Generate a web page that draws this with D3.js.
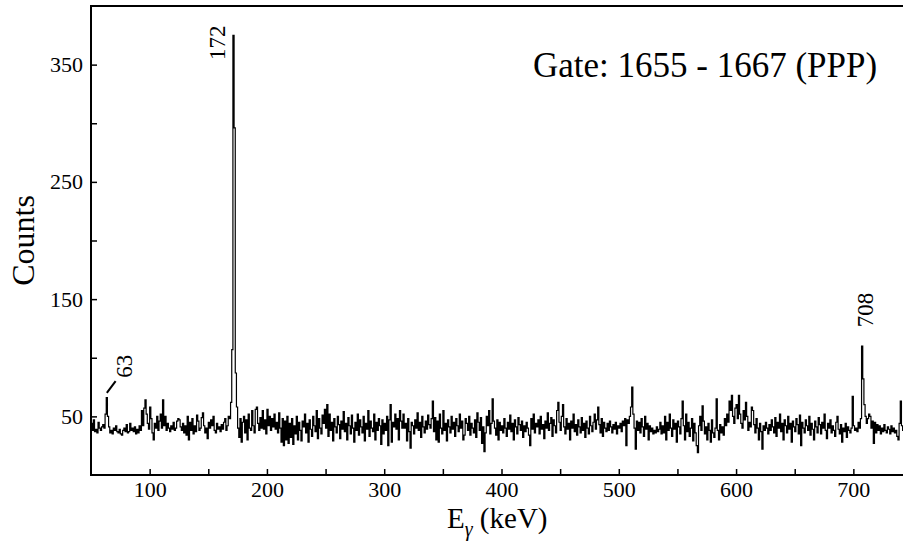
<!DOCTYPE html>
<html>
<head>
<meta charset="utf-8">
<script src="https://cdn.jsdelivr.net/npm/d3@7"></script>
<style>
  body { margin: 0; background: #fff; }
  svg { display: block; }
  svg text { font-family: "Liberation Serif", "DejaVu Serif", serif; fill: #000; }
  .axis path { display: none; }
  .axis line { stroke: #000; stroke-width: 1.5; }
  .axis text { font-size: 22px; font-family: "Liberation Serif", "DejaVu Serif", serif; }
</style>
</head>
<body>
<svg id="chart"></svg>
<script>
// gamma spectrum, 1 keV per channel, first channel at 50 keV
var startEnergy = 50;

var counts050 = [44,38,47,37,39,36,45,40,38,41, 43,40,52,66,50,41,36,38,35,40,
                 38,42,37,36,39,35,34,38,40,37, 43,36,37,44,38,40,37,41,35,39,
                 36,42,38,55,42,57,64,52,44,39];
var counts100 = [58,48,36,30,44,40,50,38,46,52, 40,64,42,50,38,44,40,37,42,39,
                 45,38,40,46,48,47,41,38,44,36, 42,34,50,30,45,38,48,35,42,37,
                 51,46,38,40,49,53,42,36,40,31];
var counts150 = [45,40,47,42,50,38,36,44,39,41, 37,43,39,45,48,38,42,50,48,62,
                 107,375,296,87,58,40,32,48,28,45, 50,36,47,30,52,40,38,55,42,36,
                 56,58,44,38,49,40,55,39,47,35];
var counts200 = [56,42,50,38,48,41,52,39,45,36, 53,40,28,48,25,46,30,50,27,44,
                 32,48,26,42,35,50,30,45,38,29, 46,41,52,36,44,28,47,39,33,50,
                 42,37,55,31,48,40,35,51,44,56];
var counts250 = [40,60,33,52,38,45,29,48,41,36, 50,43,31,46,39,54,37,44,30,49,
                 42,35,51,40,28,45,38,52,34,47, 41,36,50,29,44,39,55,33,46,40,
                 37,52,30,45,38,48,42,26,47,35];
var counts300 = [44,38,50,25,47,60,28,45,41,52, 39,48,30,55,46,40,52,40,44,29,
                 48,37,23,45,42,35,47,40,53,38, 45,32,50,41,36,46,39,51,43,40,
                 48,63,37,49,30,46,28,52,40,35];
var counts350 = [55,38,44,29,47,41,36,50,39,45, 33,48,42,37,52,40,46,30,34,48,
                 44,38,50,34,44,40,36,47,32,53, 45,38,49,27,41,20,36,50,42,55,
                 35,44,65,46,40,34,47,30,45,38];
var counts400 = [42,36,48,40,33,45,39,51,37,44, 30,47,41,35,49,43,38,46,32,42,
                 37,45,40,34,25,48,39,52,36,44, 41,47,35,50,39,43,31,46,40,53,
                 38,44,49,33,47,42,36,55,62,45];
var counts450 = [38,50,60,41,35,48,39,44,30,46, 40,52,37,43,34,47,41,36,49,38,
                 44,32,46,40,35,50,42,37,45,52, 39,47,58,43,36,48,33,45,40,37,
                 44,38,46,41,36,43,39,45,35,42];
var counts500 = [40,44,37,46,42,48,25,47,44,50, 58,75,52,40,22,46,38,45,36,48,
                 41,33,50,39,44,30,42,37,40,35, 38,36,41,37,39,45,35,42,36,50,
                 30,45,38,52,40,33,47,39,44,28];
var counts550 = [46,41,35,48,63,42,30,52,37,45, 33,40,48,29,44,36,25,19,42,50,
                 38,59,46,35,41,30,44,38,28,47, 36,32,40,65,38,30,43,36,41,34,
                 48,42,52,45,63,55,68,50,44,57];
var counts600 = [60,48,68,52,44,40,55,47,62,50, 38,45,41,58,55,43,36,48,40,30,
                 44,37,22,42,38,45,40,35,43,38, 47,41,36,49,33,45,40,52,37,44,
                 30,47,42,36,50,39,44,28,46,41];
var counts650 = [37,48,43,35,51,25,45,40,36,47, 42,38,50,34,44,39,30,46,41,36,
                 49,43,35,45,40,52,38,31,44,40, 47,36,42,38,33,45,50,39,35,43,
                 28,40,37,44,32,41,38,36,40,67];
var counts700 = [42,38,40,37,45,40,48,110,82,60, 50,44,48,52,50,40,46,27,45,36,
                 43,38,42,35,40,37,43,38,36,41, 39,35,42,37,40,36,38,33,30,44,
                 63,42,38,40,37,39];

var counts = [].concat(counts050, counts100, counts150, counts200, counts250,
  counts300, counts350, counts400, counts450, counts500, counts550, counts600,
  counts650, counts700);

var xTicks = [100, 200, 300, 400, 500, 600, 700];
var xMinorTicks = [150, 250, 350, 450, 550, 650];
var yTicks = [50, 150, 250, 350];
var yMinorTicks = [100, 200, 300];

var peakLabels = [
  {text: "172", energy: 172},
  {text: "708", energy: 708},
  {text: "63", energy: 63}
];
var gateText = "Gate: 1655 - 1667 (PPP)";

var data = counts.map(function(c, i) { return {e: startEnergy + i, c: c}; });
data.push({e: startEnergy + counts.length, c: counts[counts.length - 1]});

var fullWidth = 903;
var fullHeight = 548;
var margin = {top: 6, left: 91, bottom: 73};
var plotWidth = 821;   // right part of the frame runs past the window
var height = fullHeight - margin.top - margin.bottom;

var svg = d3.select('#chart')
  .attr('width', fullWidth)
  .attr('height', fullHeight);

var xScale = d3.scaleLinear().domain([50, 750]).range([margin.left, margin.left + plotWidth]);
var yScale = d3.scaleLinear().domain([0, 400]).range([margin.top + height, margin.top]);

svg.append('clipPath').attr('id', 'clip')
  .append('rect')
    .attr('x', margin.left).attr('y', margin.top)
    .attr('width', plotWidth).attr('height', height);

var line = d3.line()
  .x(function(d) { return xScale(d.e); })
  .y(function(d) { return yScale(d.c); })
  .curve(d3.curveStepAfter);

svg.append('path')
  .datum(data)
  .attr('clip-path', 'url(#clip)')
  .attr('fill', 'none')
  .attr('stroke', '#000')
  .attr('stroke-width', 1.2)
  .attr('d', line);

// axes with inward ticks
var bottomY = yScale(0);
svg.append('g').attr('class', 'axis')
  .attr('transform', 'translate(0,' + bottomY + ')')
  .call(d3.axisBottom(xScale).tickValues(xTicks).tickSize(-6).tickPadding(6));
svg.append('g').attr('class', 'axis')
  .attr('transform', 'translate(0,' + bottomY + ')')
  .call(d3.axisBottom(xScale).tickValues(xMinorTicks).tickSize(-6).tickFormat(''));
svg.append('g').attr('class', 'axis')
  .attr('transform', 'translate(' + margin.left + ',0)')
  .call(d3.axisLeft(yScale).tickValues(yTicks).tickSize(-6).tickPadding(8));
svg.append('g').attr('class', 'axis')
  .attr('transform', 'translate(' + margin.left + ',0)')
  .call(d3.axisLeft(yScale).tickValues(yMinorTicks).tickSize(-6).tickFormat(''));

svg.append('rect')
  .attr('x', margin.left).attr('y', margin.top)
  .attr('width', plotWidth).attr('height', height)
  .attr('fill', 'none').attr('stroke', '#000').attr('stroke-width', 2);

// peak labels
var labelPos = {
  "172": [xScale(172) - 9, yScale(354)],
  "708": [xScale(708) + 10, yScale(126)],
  "63":  [xScale(63) + 26, yScale(83)]
};
peakLabels.forEach(function(p) {
  svg.append('text')
    .attr('transform', 'translate(' + labelPos[p.text][0] + ',' + labelPos[p.text][1] + ') rotate(-90)')
    .attr('font-size', 23)
    .text(p.text);
});
svg.append('line')
  .attr('x1', xScale(63.5)).attr('y1', yScale(70))
  .attr('x2', xScale(71)).attr('y2', yScale(80))
  .attr('stroke', '#000').attr('stroke-width', 2);

svg.append('text')
  .attr('x', 533).attr('y', 77)
  .attr('font-size', 35)
  .text(gateText);

// axis titles
svg.append('text')
  .attr('transform', 'translate(34,' + (margin.top + height / 2) + ') rotate(-90)')
  .attr('text-anchor', 'middle')
  .attr('font-size', 32)
  .text('Counts');

var xt = svg.append('text')
  .attr('x', 447).attr('y', 528)
  .attr('font-size', 29);
xt.append('tspan').text('E');
xt.append('tspan').attr('font-size', 20).attr('font-style', 'italic').attr('dy', 8).text('γ');
xt.append('tspan').attr('dy', -8).text(' (keV)');
</script>
</body>
</html>
